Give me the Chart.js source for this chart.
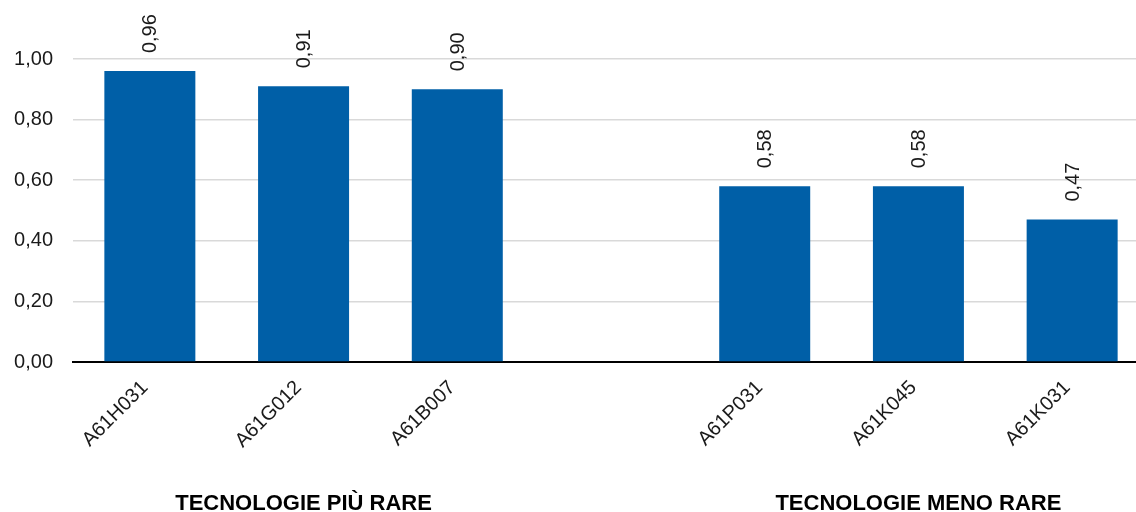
<!DOCTYPE html>
<html lang="it">
<head>
<meta charset="utf-8">
<title>Tecnologie più rare e meno rare</title>
<script src="https://cdn.jsdelivr.net/npm/chart.js@4.4.1/dist/chart.umd.min.js"></script>
<style>
  html, body { margin: 0; padding: 0; background: #ffffff; overflow: hidden; }
  #wrap { width: 1149px; height: 512px; }
</style>
</head>
<body>
<div id="wrap"><canvas id="chart" width="1149" height="512"></canvas></div>
<script>
// Codici tecnologici (lo slot vuoto separa i due gruppi)
const categories = ['A61H031', 'A61G012', 'A61B007', '', 'A61P031', 'A61K045', 'A61K031'];
// Valori dell'indice per ciascun codice
const values = [0.96, 0.91, 0.90, null, 0.58, 0.58, 0.47];
// Etichette dei gruppi, allineate sotto il codice centrale di ciascun gruppo
const groupLabels = ['', 'TECNOLOGIE PIÙ RARE', '', '', '', 'TECNOLOGIE MENO RARE', ''];

const FONT = '"Liberation Sans", Arial, Helvetica, sans-serif';
const BAR_COLOR = '#005fa7';
const TEXT_COLOR = '#1a1a1a';

const fmt = v => v.toFixed(2).replace('.', ',');

// Valori scritti in verticale sopra ogni barra
const valueLabels = {
  id: 'valueLabels',
  afterDatasetsDraw(chart) {
    const ctx = chart.ctx;
    const meta = chart.getDatasetMeta(0);
    ctx.save();
    ctx.font = '20px ' + FONT;
    ctx.fillStyle = TEXT_COLOR;
    ctx.textAlign = 'left';
    ctx.textBaseline = 'middle';
    meta.data.forEach((bar, i) => {
      const v = chart.data.datasets[0].data[i];
      if (v === null || v === undefined) return;
      ctx.save();
      ctx.translate(bar.x, bar.y - 18);
      ctx.rotate(-Math.PI / 2);
      ctx.fillText(fmt(v), 0, 1);
      ctx.restore();
    });
    ctx.restore();
  }
};

new Chart(document.getElementById('chart'), {
  type: 'bar',
  data: {
    labels: categories,
    datasets: [{
      data: values,
      backgroundColor: BAR_COLOR,
      borderWidth: 0,
      categoryPercentage: 1.0,
      barPercentage: 0.592
    }]
  },
  options: {
    responsive: false,
    animation: false,
    devicePixelRatio: 1,
    layout: { padding: { top: 59, left: 0, right: 0, bottom: 0 } },
    plugins: {
      legend: { display: false },
      tooltip: { enabled: false }
    },
    scales: {
      y: {
        min: 0,
        max: 1,
        afterFit(scale) { scale.width = 73; },
        ticks: {
          stepSize: 0.2,
          padding: 20,
          color: TEXT_COLOR,
          font: { family: FONT, size: 20 },
          callback: v => fmt(v)
        },
        grid: { color: '#d9d9d9', lineWidth: 1.5, drawTicks: false },
        border: { display: false }
      },
      x: {
        offset: true,
        afterFit(scale) { scale.height = 118; },
        ticks: {
          autoSkip: false,
          minRotation: 45,
          maxRotation: 45,
          padding: 14,
          labelOffset: -5,
          color: TEXT_COLOR,
          font: { family: FONT, size: 20 }
        },
        grid: { display: false, drawTicks: false },
        border: { display: true, color: '#000000', width: 2 }
      },
      x2: {
        type: 'category',
        position: 'bottom',
        labels: groupLabels,
        offset: true,
        afterFit(scale) { scale.height = 32; },
        ticks: {
          autoSkip: false,
          minRotation: 0,
          maxRotation: 0,
          padding: 11,
          color: '#000000',
          font: { family: FONT, size: 22, weight: 'bold' }
        },
        grid: { display: false, drawTicks: false },
        border: { display: false }
      }
    }
  },
  plugins: [valueLabels]
});
</script>
</body>
</html>
